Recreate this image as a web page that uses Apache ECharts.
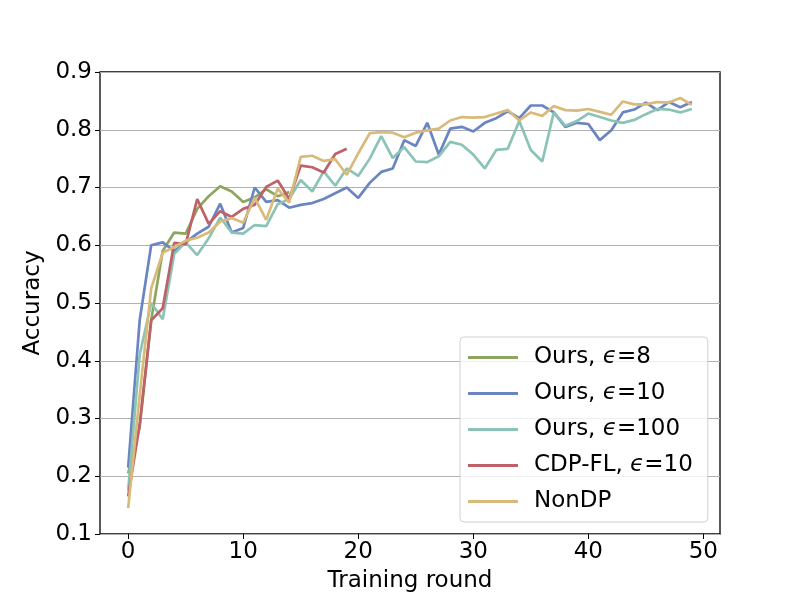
<!DOCTYPE html>
<html>
<head>
<meta charset="utf-8">
<script src="https://cdn.jsdelivr.net/npm/echarts@6/dist/echarts.min.js"></script>
<style>html,body{margin:0;padding:0;background:#fff}#c{width:800px;height:600px}</style>
</head>
<body>
<div id="c"></div>
<script>
const seriesNames = ['Ours, ϵ=8', 'Ours, ϵ=10', 'Ours, ϵ=100', 'CDP-FL, ϵ=10', 'NonDP'];
const ours8 = [0.205,0.285,0.47,0.59,0.622,0.62,0.663,0.685,0.702,0.693,0.675,0.683,0.697,0.685,0.692];
const ours10 = [0.215,0.47,0.60,0.605,0.59,0.605,0.62,0.632,0.672,0.622,0.63,0.70,0.675,0.678,0.665,0.67,0.673,0.68,0.69,0.70,
  0.682,0.708,0.727,0.733,0.782,0.772,0.812,0.757,0.802,0.805,0.797,0.812,0.82,0.832,0.82,0.842,0.842,0.83,0.805,0.812,
  0.81,0.782,0.799,0.83,0.835,0.847,0.834,0.848,0.839,0.848];
const ours100 = [0.175,0.41,0.50,0.472,0.585,0.605,0.583,0.612,0.648,0.622,0.62,0.635,0.633,0.671,0.68,0.713,0.693,0.728,0.703,0.733,
  0.72,0.75,0.789,0.751,0.77,0.745,0.744,0.754,0.779,0.774,0.757,0.733,0.765,0.767,0.815,0.765,0.745,0.83,0.807,0.815,
  0.828,0.822,0.816,0.812,0.817,0.827,0.836,0.835,0.83,0.836];
const cdpfl = [0.165,0.29,0.47,0.491,0.604,0.602,0.68,0.637,0.659,0.649,0.663,0.67,0.701,0.712,0.68,0.738,0.735,0.726,0.758,0.767];
const nondp = [0.145,0.34,0.525,0.587,0.597,0.608,0.613,0.622,0.641,0.647,0.639,0.682,0.644,0.698,0.674,0.753,0.755,0.746,0.749,0.722,
  0.759,0.794,0.796,0.795,0.787,0.795,0.799,0.802,0.816,0.822,0.821,0.822,0.828,0.834,0.816,0.83,0.824,0.841,0.834,0.833,
  0.836,0.831,0.826,0.849,0.844,0.844,0.848,0.847,0.855,0.843];
const xTicks = [0,10,20,30,40,50];
const colors = ['#8ea55e','#6a85c1','#8bc3b6','#bf6168','#d8bb7b'];

const allData = [ours8, ours10, ours100, cdpfl, nondp];
const font = 'DejaVu Sans';
const fs = 23;
const chart = echarts.init(document.getElementById('c'), null, {renderer:'canvas'});
chart.setOption({
  animation: false,
  backgroundColor: '#fff',
  color: colors,
  grid: {left: 100, right: 80, top: 72, bottom: 66, show: true, borderColor: '#000', borderWidth: 1.3, backgroundColor: 'transparent'},
  xAxis: {
    type: 'value', min: -2.45, max: 51.45,
    name: 'Training round', nameLocation: 'middle', nameGap: 36,
    nameTextStyle: {fontFamily: font, fontSize: fs, color: '#000'},
    axisLine: {show: false, onZero: false},
    axisTick: {show: true, inside: false, length: 5, lineStyle: {color: '#000', width: 1}, customValues: xTicks},
    axisLabel: {fontFamily: font, fontSize: fs, color: '#000', margin: 7, customValues: xTicks},
    splitLine: {show: false}
  },
  yAxis: {
    type: 'value', min: 0.1, max: 0.9, interval: 0.1,
    name: 'Accuracy', nameLocation: 'middle', nameGap: 54,
    nameTextStyle: {fontFamily: font, fontSize: fs, color: '#000'},
    axisLine: {show: false, onZero: false},
    axisTick: {show: true, inside: false, length: 5, lineStyle: {color: '#000', width: 1}},
    axisLabel: {fontFamily: font, fontSize: fs, color: '#000', margin: 8, formatter: v => (Math.round(v*10)/10).toFixed(1)},
    splitLine: {show: true, lineStyle: {color: '#b0b0b0', width: 1}}
  },
  legend: {
    orient: 'vertical', left: 460, top: 337,
    backgroundColor: 'rgba(255,255,255,0.8)', borderColor: '#d0d0d0', borderWidth: 1, borderRadius: 4,
    padding: [9, 15, 9, 8],
    itemWidth: 50, itemHeight: 3, itemGap: 13, icon: 'rect',
    textStyle: {fontFamily: font, fontSize: fs, color: '#000', padding: [0,0,0,11],
      rich: {i: {fontFamily: font, fontSize: fs, fontStyle: 'italic', color: '#000'}}},
    formatter: n => n.replace('ϵ', '{i|ϵ}'),
    data: seriesNames
  },
  series: allData.map((arr, k) => ({
    name: seriesNames[k], type: 'line', symbol: 'none', showSymbol: false,
    lineStyle: {width: 2.7, color: colors[k]}, itemStyle: {color: colors[k]},
    data: arr.map((v, i) => [i, v]), z: 2 + k
  }))
});
</script>
</body>
</html>
